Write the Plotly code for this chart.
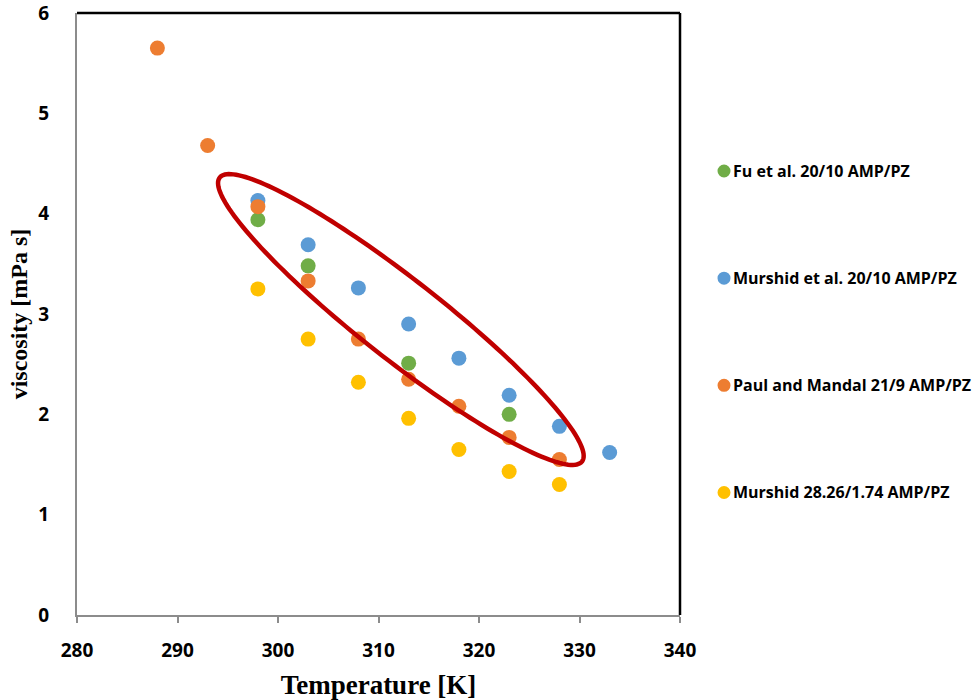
import numpy as np
import plotly.graph_objects as go

# Temperature [K] and viscosity [mPa s] for each data set
fu_T = [298, 303, 313, 323]
fu_mu = [3.94, 3.48, 2.51, 2.00]

murshid_T = [298, 303, 308, 313, 318, 323, 328, 333]
murshid_mu = [4.13, 3.69, 3.26, 2.90, 2.56, 2.19, 1.88, 1.62]

paul_T = [288, 293, 298, 303, 308, 313, 318, 323, 328]
paul_mu = [5.65, 4.68, 4.07, 3.33, 2.75, 2.35, 2.08, 1.77, 1.55]

murshid2_T = [298, 303, 308, 313, 318, 323, 328]
murshid2_mu = [3.25, 2.75, 2.32, 1.96, 1.65, 1.43, 1.30]

series_names = [
    "Fu et al. 20/10 AMP/PZ",
    "Murshid et al. 20/10 AMP/PZ",
    "Paul and Mandal 21/9 AMP/PZ",
    "Murshid 28.26/1.74 AMP/PZ",
]
series_x = [fu_T, murshid_T, paul_T, murshid2_T]
series_y = [fu_mu, murshid_mu, paul_mu, murshid2_mu]
series_colors = ["#70AD47", "#5B9BD5", "#ED7D31", "#FFC000"]

x_range = [280, 340]
y_range = [0, 6]
x_ticks = [280, 290, 300, 310, 320, 330, 340]
y_ticks = [0, 1, 2, 3, 4, 5, 6]

W, H = 976, 700
M = dict(l=77, r=296, t=13, b=85, autoexpand=False)
plot_w = W - M["l"] - M["r"]
plot_h = H - M["t"] - M["b"]
px_x = plot_w / (x_range[1] - x_range[0])
px_y = plot_h / (y_range[1] - y_range[0])

fig = go.Figure()
for name, xs, ys, col in zip(series_names, series_x, series_y, series_colors):
    fig.add_trace(go.Scatter(
        x=xs, y=ys, mode="markers", name=name, showlegend=False,
        marker=dict(size=15, color=col, line=dict(width=0)),
    ))

# Highlight ellipse around the 20/10 blends, defined by its two tips and half-width
tip_a = (294.2, 4.36)
tip_b = (330.25, 1.53)
half_minor_px = 40.0
ax_px = np.array([(tip_b[0] - tip_a[0]) * px_x, -(tip_b[1] - tip_a[1]) * px_y])
cx = (tip_a[0] + tip_b[0]) / 2
cy = (tip_a[1] + tip_b[1]) / 2
a_px = np.hypot(*ax_px) / 2
ang = np.arctan2(ax_px[1], ax_px[0])
t = np.linspace(0, 2 * np.pi, 181)
ex = a_px * np.cos(t) * np.cos(ang) - half_minor_px * np.sin(t) * np.sin(ang)
ey = a_px * np.cos(t) * np.sin(ang) + half_minor_px * np.sin(t) * np.cos(ang)
xs_e = cx + ex / px_x
ys_e = cy - ey / px_y
path = "M " + " L ".join(f"{x:.4f},{y:.4f}" for x, y in zip(xs_e, ys_e)) + " Z"
fig.add_shape(type="path", path=path, xref="x", yref="y",
              line=dict(color="#C00000", width=4.5), fillcolor="rgba(0,0,0,0)")

# Frame: dark top and right edges
fig.add_shape(type="line", xref="paper", yref="paper", x0=0, x1=1, y0=1, y1=1,
              line=dict(color="#000000", width=2.5))
fig.add_shape(type="line", xref="paper", yref="paper", x0=1, x1=1, y0=0, y1=1,
              line=dict(color="#000000", width=2.5))

# Legend: a dot and a bold label per series, stacked down the right margin
legend_x = 1.073          # paper x of the dot centres
legend_top = 0.7375       # paper y of the first entry
legend_step = 0.178       # vertical spacing between entries (paper units)
dot_r = 6.5
for i, (name, col) in enumerate(zip(series_names, series_colors)):
    yy = legend_top - i * legend_step
    fig.add_shape(type="circle", xref="paper", yref="paper",
                  xsizemode="pixel", ysizemode="pixel",
                  xanchor=legend_x, yanchor=yy,
                  x0=-dot_r, x1=dot_r, y0=-dot_r, y1=dot_r,
                  fillcolor=col, line=dict(width=0))
    fig.add_annotation(xref="paper", yref="paper", x=legend_x, y=yy,
                       xanchor="left", yanchor="middle", xshift=7, showarrow=False,
                       text=f"<b>{name}</b>",
                       font=dict(family="Open Sans, Liberation Sans, sans-serif",
                                 size=16, color="#000000"))

tick_font = dict(family="Open Sans, Liberation Sans, sans-serif", size=19, color="#000000")
title_font_x = dict(family="Liberation Serif, Times New Roman, serif", size=27, color="#000000")
title_font_y = dict(family="Liberation Serif, Times New Roman, serif", size=24, color="#000000")

fig.update_xaxes(
    range=x_range, tickvals=x_ticks, ticktext=[f"<b>{v}</b>" for v in x_ticks],
    showgrid=False, zeroline=False, showline=True, linecolor="#8C8C8C", linewidth=2,
    ticks="outside", ticklen=6, tickcolor="#8C8C8C", tickwidth=2,
    ticklabelstandoff=11, ticklabeloverflow="allow", tickfont=tick_font,
    title=dict(text="<b>Temperature [K]</b>", font=title_font_x, standoff=18),
)
fig.update_yaxes(
    range=y_range, tickvals=y_ticks, ticktext=[f"<b>{v}</b>" for v in y_ticks],
    showgrid=False, zeroline=False, showline=True, linecolor="#8C8C8C", linewidth=2,
    ticks="", ticklabelstandoff=22, ticklabeloverflow="allow", tickfont=tick_font,
    title=dict(text="<b>viscosity [mPa s]</b>", font=title_font_y, standoff=4),
)

fig.update_layout(
    width=W, height=H, margin=M,
    paper_bgcolor="white", plot_bgcolor="white",
    showlegend=False,
)

fig.write_html("out.html")
